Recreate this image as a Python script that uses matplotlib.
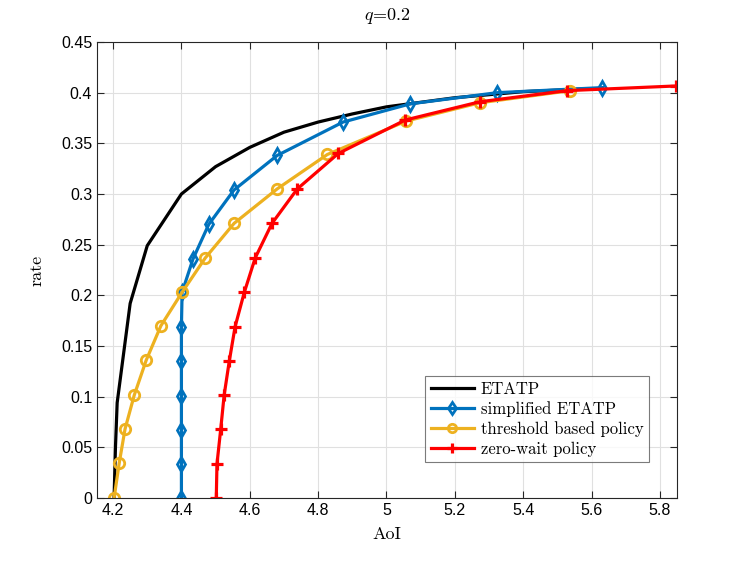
import matplotlib
matplotlib.use("Agg")
import matplotlib.pyplot as plt

# ETATP (no markers)
etatp_aoi = [4.203, 4.207, 4.212, 4.25, 4.30, 4.40, 4.50, 4.60, 4.70, 4.80, 4.90, 5.00, 5.20, 5.40, 5.60]
etatp_rate = [0.0, 0.05, 0.094, 0.192, 0.249, 0.300, 0.327, 0.346, 0.361, 0.371, 0.379, 0.386, 0.395, 0.401, 0.404]

# simplified ETATP
simp_aoi = [4.40, 4.40, 4.40, 4.40, 4.40, 4.40, 4.402, 4.434, 4.48, 4.554, 4.68, 4.873, 5.07, 5.324, 5.632]
simp_rate = [0.0, 0.0338, 0.0675, 0.101, 0.135, 0.169, 0.203, 0.236, 0.270, 0.304, 0.338, 0.371, 0.389, 0.400, 0.405]

# threshold based policy
thr_aoi = [4.203, 4.218, 4.235, 4.262, 4.297, 4.34, 4.402, 4.47, 4.554, 4.68, 4.827, 5.058, 5.273, 5.538]
thr_rate = [0.0, 0.0345, 0.068, 0.1015, 0.136, 0.17, 0.203, 0.237, 0.271, 0.305, 0.339, 0.372, 0.390, 0.402]

# zero-wait policy
zw_aoi = [4.502, 4.504, 4.515, 4.525, 4.54, 4.557, 4.584, 4.616, 4.665, 4.739, 4.859, 5.055, 5.273, 5.528, 5.846]
zw_rate = [0.0, 0.0335, 0.068, 0.1015, 0.135, 0.169, 0.203, 0.237, 0.271, 0.305, 0.340, 0.373, 0.391, 0.402, 0.4066]

xticks = [4.2, 4.4, 4.6, 4.8, 5.0, 5.2, 5.4, 5.6, 5.8]
xticklabels = ['4.2', '4.4', '4.6', '4.8', '5', '5.2', '5.4', '5.6', '5.8']
yticks = [0, 0.05, 0.1, 0.15, 0.2, 0.25, 0.3, 0.35, 0.4, 0.45]
yticklabels = ['0', '0.05', '0.1', '0.15', '0.2', '0.25', '0.3', '0.35', '0.4', '0.45']

plt.rcParams['mathtext.fontset'] = 'cm'
plt.rcParams['axes.formatter.use_mathtext'] = True

BLUE = '#0072BD'
YELLOW = '#EDB120'
RED = '#FF0000'

fig = plt.figure(figsize=(7.47, 5.61), dpi=100)
ax = fig.add_axes([97 / 747, 1 - 498 / 561, (677 - 97) / 747, (498 - 42) / 561])

ax.plot(etatp_aoi, etatp_rate, color='black', lw=2.3, label='ETATP')
ax.plot(simp_aoi, simp_rate, color=BLUE, lw=2.3, marker='d', ms=7.5, mew=2,
        mfc='none', mec=BLUE, label='simplified ETATP')
ax.plot(thr_aoi, thr_rate, color=YELLOW, lw=2.3, marker='o', ms=7.5, mew=2,
        mfc='none', mec=YELLOW, label='threshold based policy')
ax.plot(zw_aoi, zw_rate, color=RED, lw=2.3, marker='+', ms=8.5, mew=2.3,
        label='zero-wait policy')

ax.set_xlim(4.153, 5.85)
ax.set_ylim(0, 0.45)
ax.set_xticks(xticks)
ax.set_xticklabels(xticklabels, fontfamily='Liberation Sans', fontsize=11.5)
ax.set_yticks(yticks)
ax.set_yticklabels(yticklabels, fontfamily='Liberation Sans', fontsize=11.5)
ax.tick_params(direction='in', top=True, right=True, length=5, width=0.8, color='#262626')
ax.grid(True, color='#e0e0e0', lw=0.8)
ax.set_axisbelow(True)
for s in ax.spines.values():
    s.set_color('#262626')
    s.set_linewidth(0.8)

ax.set_xlabel('AoI', fontfamily='cmr10', fontsize=13, labelpad=6)
ax.set_ylabel('rate', fontfamily='cmr10', fontsize=13, labelpad=12)
ax.set_title(r'$q$' + '=0.2', fontfamily='cmr10', fontsize=13, pad=16)

leg = ax.legend(loc='lower right', bbox_to_anchor=(0.952, 0.078),
                prop={'family': 'cmr10', 'size': 12}, frameon=True, fancybox=False,
                handlelength=2.6, borderpad=0.35, labelspacing=0.25, handletextpad=0.4,
                borderaxespad=0.0, markerscale=0.8)
leg.get_frame().set_edgecolor('#5a5a5a')
leg.get_frame().set_linewidth(0.8)

fig.savefig('out.png', dpi=100)
